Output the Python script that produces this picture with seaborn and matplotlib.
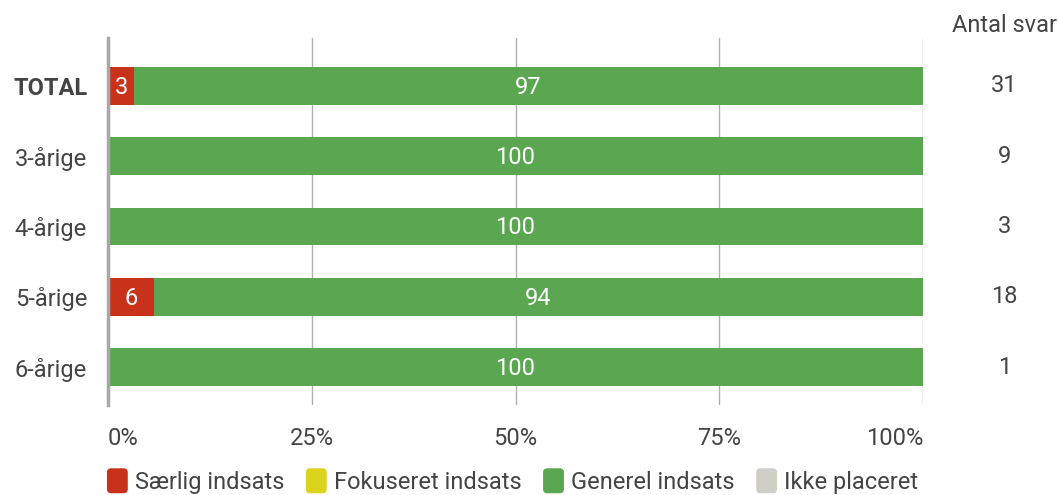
import matplotlib
matplotlib.use("Agg")
import matplotlib.pyplot as plt
import matplotlib.transforms as mtransforms
from matplotlib.patches import Patch, FancyBboxPatch
from matplotlib.legend_handler import HandlerPatch
import numpy as np
import pandas as pd
import seaborn as sns

# data (percent)
categories = ["TOTAL", "3-årige", "4-årige", "5-årige", "6-årige"]
saerlig = [3.2, 0, 0, 5.6, 0]
fokuseret = [0, 0, 0, 0, 0]
generel = [96.8, 100, 100, 94.4, 100]
ikke_placeret = [0, 0, 0, 0, 0]
antal_svar = [31, 9, 3, 18, 1]

series_names = ["Særlig indsats", "Fokuseret indsats", "Generel indsats", "Ikke placeret"]
colors = ["#C8321A", "#DCD41A", "#5BA650", "#CFCFC6"]
text_color = "#444444"
fs = 17

sns.set_theme(style="white")
plt.rcParams["font.family"] = ["Roboto", "DejaVu Sans"]

df = pd.DataFrame({
    "cat": categories,
    "s1": saerlig,
    "s2": fokuseret,
    "s3": generel,
    "s4": ikke_placeret,
})
cols = ["s1", "s2", "s3", "s4"]
cum = df[cols].cumsum(axis=1)

fig = plt.figure(figsize=(10.59, 4.95), dpi=100)
ax = fig.add_axes([108 / 1059, 1 - 405 / 495, 815 / 1059, 367 / 495])

# stacked bars: draw cumulative totals from the back to the front
for i in range(3, -1, -1):
    sns.barplot(x=cum[cols[i]], y=df["cat"], color=colors[i], ax=ax,
                width=0.54, saturation=1, orient="h", linewidth=0)

# segment labels
starts = cum.shift(1, axis=1).fillna(0)
for r in range(len(categories)):
    for i, c in enumerate(cols):
        v = df.loc[r, c]
        if v > 0:
            ax.text(starts.loc[r, c] + v / 2, r + 0.02, f"{v:.0f}", ha="center",
                    va="center", color="white", fontsize=fs)

ax.set_xlim(0, 100)
ax.set_ylim(4 + 38 / 70.25, -48 / 70.25)
ax.set_xticks([0, 25, 50, 75, 100])
ax.set_xticklabels(["0%", "25%", "50%", "75%", "100%"])
ax.xaxis.grid(True, color="#B0B0B0", linewidth=1)
ax.set_axisbelow(True)
ax.set_xlabel("")
ax.set_ylabel("")
for s in ["top", "right", "bottom"]:
    ax.spines[s].set_visible(False)
ax.spines["left"].set_color("#A8A8A8")
ax.spines["left"].set_linewidth(2.5)
ax.tick_params(axis="both", length=0, labelsize=fs, labelcolor=text_color)
ax.tick_params(axis="x", pad=16)
ax.tick_params(axis="y", pad=15)
xt = ax.get_xticklabels()
xt[0].set_horizontalalignment("left")
xt[-1].set_horizontalalignment("right")
for lbl in ax.get_yticklabels():
    if lbl.get_text() == "TOTAL":
        lbl.set_fontweight("bold")

# Antal svar column
trans = mtransforms.blended_transform_factory(ax.transAxes, ax.transData)
for r, n in enumerate(antal_svar):
    ax.text(1.1, r, str(n), transform=trans, ha="center", va="center",
            fontsize=fs, color=text_color)
fig.text(1004 / 1059, 1 - 26 / 495, "Antal svar", ha="center", va="center",
         fontsize=fs, color=text_color)


class RoundHandler(HandlerPatch):
    def create_artists(self, legend, orig_handle, xdescent, ydescent,
                       width, height, fontsize, trans):
        p = FancyBboxPatch((-xdescent + 1, -ydescent), width - 2, height,
                           boxstyle="round,pad=0,rounding_size=3",
                           facecolor=orig_handle.get_facecolor(), edgecolor="none",
                           transform=trans)
        return [p]


handles = [Patch(facecolor=c, edgecolor="none") for c in colors]
fig.legend(handles, series_names, loc="center", bbox_to_anchor=(512 / 1059, 1 - 481 / 495),
           ncol=4, frameon=False, fontsize=fs, handlelength=1.0, handleheight=1.25,
           handletextpad=0.25, columnspacing=0.85, labelcolor=text_color,
           handler_map={Patch: RoundHandler()})

fig.savefig("out.png", dpi=100)
